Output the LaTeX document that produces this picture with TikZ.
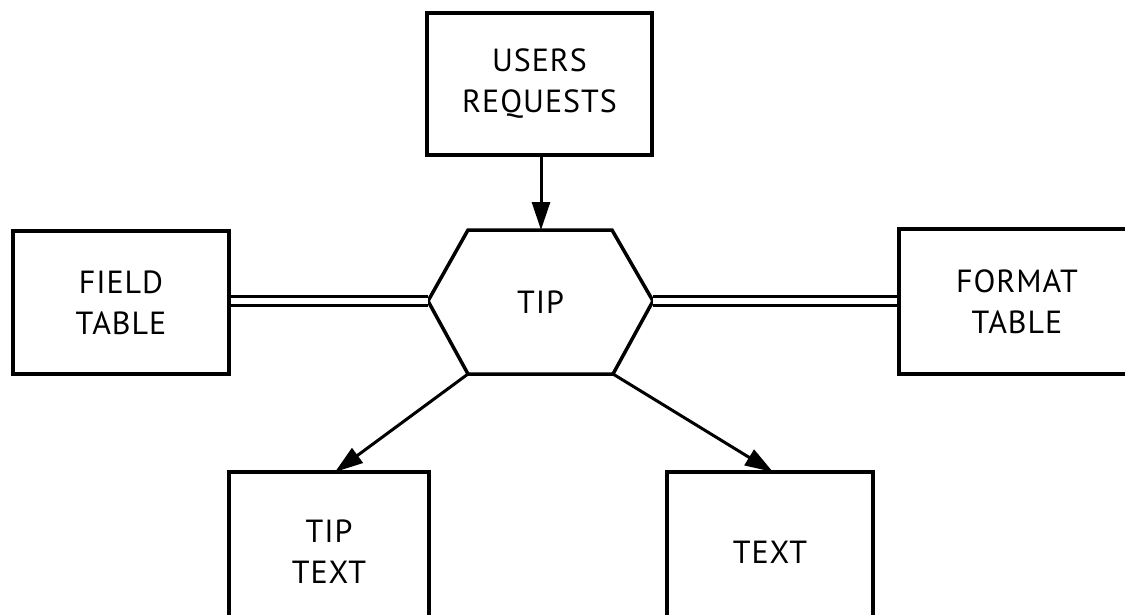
\documentclass[tikz,border=0pt]{standalone}
\usepackage{fontspec}
\setmainfont{PT Sans}[LetterSpace=3]
\usetikzlibrary{arrows.meta}
\begin{document}
\begin{tikzpicture}[x=1pt,y=-1pt,
  box/.style={draw, line width=3.5pt, rectangle, inner sep=0pt, align=center,
    font=\fontsize{32}{41}\selectfont},
  lbl/.style={inner sep=0pt, align=center, font=\fontsize{32}{41}\selectfont},
  arr/.style={line width=3pt, -{Triangle[length=28pt,width=18pt]}},
  dbl/.style={double, double distance=5.5pt, line width=3.2pt}]
\clip (0,0) rectangle (1125,615);
\fill[white] (0,0) rectangle (1125,615);
% boxes
\node[box, minimum width=225pt, minimum height=142pt] (users) at (539.5,84) {USERS\\REQUESTS};
\node[box, minimum width=216pt, minimum height=143pt] (field) at (121,302.5) {FIELD\\TABLE};
\node[box, minimum width=236pt, minimum height=145pt] (format) at (1017,301.5) {FORMAT\\TABLE};
\node[box, minimum width=200pt, minimum height=160pt] (tiptext) at (329,552) {TIP\\TEXT};
\node[box, minimum width=206pt, minimum height=160pt] (text) at (770,552) {TEXT};
% hexagon
\coordinate (hl) at (428,301);
\coordinate (htl) at (468,230);
\coordinate (htr) at (612,230);
\coordinate (hr) at (653,301);
\coordinate (hbr) at (613,374);
\coordinate (hbl) at (468,374);
\coordinate (htop) at (541,230);
\draw[line width=3.5pt, line join=miter] (hl) -- (htl) -- (htr) -- (hr) -- (hbr) -- (hbl) -- cycle;
\node[lbl] (tip) at (540.5,302) {TIP};
% connectors
\coordinate (ttin) at (335,472);
\coordinate (txin) at (773,472);
\draw[arr] (users.south -| htop) -- (htop);
\draw[arr] (hbl) -- (ttin);
\draw[arr] (hbr) -- (txin);
\draw[dbl] (field.east |- hl) -- (hl);
\draw[dbl] (hr) -- (format.west |- hr);
\end{tikzpicture}
\end{document}
